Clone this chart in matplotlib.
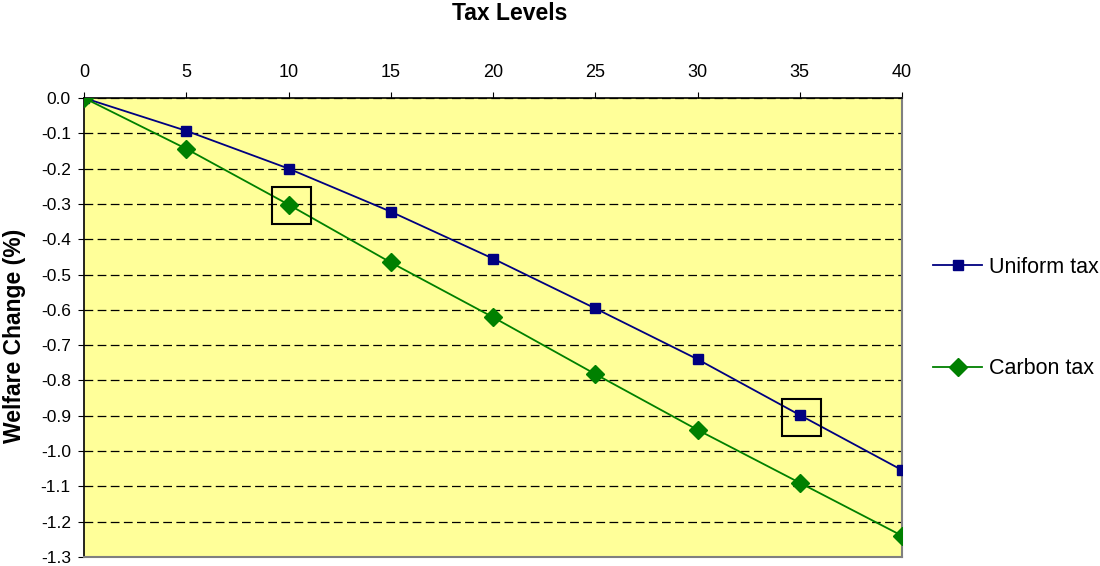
import matplotlib.pyplot as plt
from matplotlib.patches import Rectangle

plt.rcParams['font.family'] = ['Liberation Sans', 'DejaVu Sans']

tax_levels = [0, 5, 10, 15, 20, 25, 30, 35, 40]
uniform_tax = [0.0, -0.093, -0.20, -0.322, -0.455, -0.596, -0.74, -0.898, -1.054]
carbon_tax = [0.0, -0.144, -0.302, -0.466, -0.621, -0.782, -0.94, -1.09, -1.24]

# points picked out with a box
boxed = [(10.15, -0.305), (35.1, -0.905)]

fig = plt.figure(figsize=(11, 5.66), dpi=100)
ax = fig.add_axes([0.0764, 0.0160, 0.7436, 0.8109])
ax.set_facecolor('#FFFF99')

ax.plot(tax_levels, uniform_tax, color='#000080', marker='s', markersize=7,
        linewidth=1.3, label='Uniform tax', zorder=3)
ax.plot(tax_levels, carbon_tax, color='#008000', marker='D', markersize=9,
        linewidth=1.3, label='Carbon tax', zorder=3)

for x, y in boxed:
    ax.add_patch(Rectangle((x - 0.95, y - 0.053), 1.9, 0.106, fill=False,
                           edgecolor='black', linewidth=1.5, zorder=4))

ax.set_xlim(0, 40)
ax.set_ylim(-1.3, 0)
ax.set_xticks(range(0, 41, 5))
ax.set_yticks([-1.3 + 0.1 * i for i in range(14)])
ax.yaxis.set_major_formatter(plt.FuncFormatter(lambda v, p: f'{v:.1f}'))
ax.xaxis.tick_top()
ax.tick_params(axis='both', direction='out', length=4.5, color='black')
ax.tick_params(axis='x', labelsize=13, pad=8)
ax.tick_params(axis='y', labelsize=12.5, pad=5)

ax.yaxis.grid(True, linestyle=(0, (7, 3.5)), color='black', linewidth=0.9)
ax.set_axisbelow(True)

for side in ('left', 'top'):
    ax.spines[side].set_color('black')
    ax.spines[side].set_linewidth(1.2)
for side in ('right', 'bottom'):
    ax.spines[side].set_color('#808080')
    ax.spines[side].set_linewidth(1.5)

fig.text(510 / 1100, 1 - 14 / 566, 'Tax Levels', fontsize=16.5, fontweight='bold',
         ha='center', va='center')
fig.text(15 / 1100, 1 - 336 / 566, 'Welfare Change (%)', fontsize=16.5,
         fontweight='bold', rotation=90, ha='center', va='center')

fig.legend(*ax.get_legend_handles_labels(), loc='center left',
           bbox_to_anchor=(933 / 1100, 1 - 318 / 566), frameon=False,
           fontsize=15.5, handlelength=2.28, labelspacing=3.75, handletextpad=0.3,
           borderpad=0, borderaxespad=0)

fig.savefig('out.png', dpi=100)
